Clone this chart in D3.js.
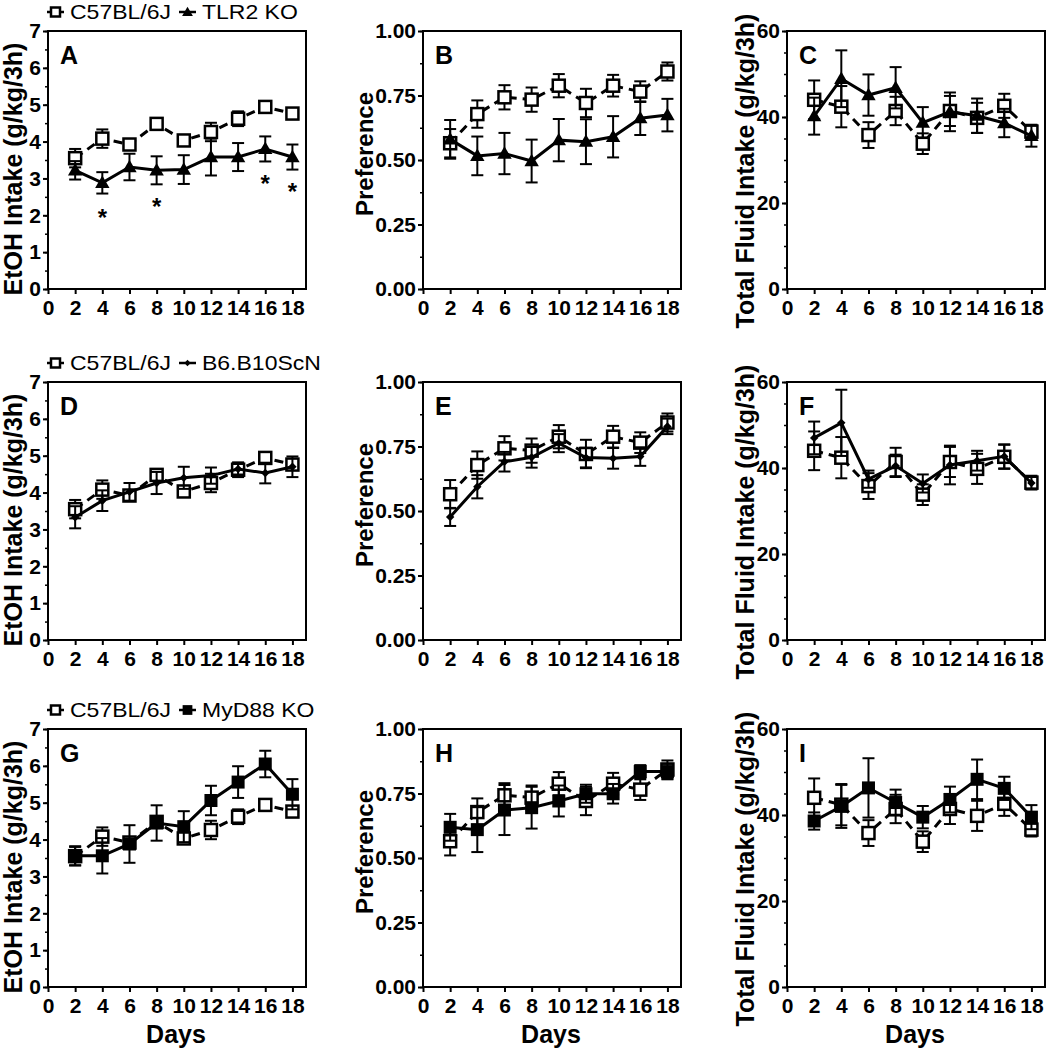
<!DOCTYPE html>
<html>
<head>
<meta charset="utf-8">
<script src="https://cdn.jsdelivr.net/npm/d3@7"></script>
<style>
  body { margin: 0; background: #fff; }
  svg text { font-family: "Liberation Sans", Arial, sans-serif; fill: #000; }
</style>
</head>
<body>
<svg id="fig" width="1047" height="1050"></svg>
<script>
// x values and tick labels
const days = [2, 4, 6, 8, 10, 12, 14, 16, 18];
const dayTicks = [0, 2, 4, 6, 8, 10, 12, 14, 16, 18];
const etohTicks = [0, 1, 2, 3, 4, 5, 6, 7];
const prefTicks = [0, 0.25, 0.5, 0.75, 1];
const fluidTicks = [0, 20, 40, 60];

// C57BL/6J controls (same group shown in every row)
const c57Etoh = [3.55, 4.08, 3.92, 4.48, 4.03, 4.26, 4.62, 4.94, 4.76];
const c57EtohErr = [0.25, 0.25, 0.1, 0.15, 0.1, 0.25, 0.2, 0.08, 0.1];
const c57Pref = [0.565, 0.678, 0.743, 0.734, 0.788, 0.721, 0.788, 0.765, 0.843];
const c57PrefErr = [0.055, 0.053, 0.047, 0.047, 0.045, 0.055, 0.042, 0.04, 0.035];
const c57Fluid = [44.0, 42.4, 35.8, 41.4, 33.8, 41.4, 39.8, 42.6, 36.6];
const c57FluidErr = [4.5, 4.8, 3.0, 3.3, 2.4, 3.5, 3.5, 2.8, 1.6];

// TLR2 KO
const tlr2Etoh = [3.22, 2.88, 3.31, 3.22, 3.24, 3.58, 3.58, 3.80, 3.58];
const tlr2EtohErr = [0.25, 0.29, 0.36, 0.38, 0.39, 0.5, 0.38, 0.34, 0.34];
const tlr2Pref = [0.58, 0.516, 0.525, 0.496, 0.577, 0.571, 0.590, 0.662, 0.674];
const tlr2PrefErr = [0.075, 0.075, 0.08, 0.083, 0.082, 0.087, 0.08, 0.065, 0.063];
const tlr2Fluid = [40.2, 48.9, 45.1, 46.8, 38.7, 41.2, 40.3, 38.6, 35.6];
const tlr2FluidErr = [4.3, 6.6, 4.8, 4.8, 3.6, 4.5, 4.0, 3.3, 2.5];

// B6.B10ScN
const scnEtoh = [3.33, 3.78, 4.02, 4.26, 4.40, 4.46, 4.64, 4.53, 4.70];
const scnEtohErr = [0.3, 0.28, 0.24, 0.3, 0.3, 0.22, 0.15, 0.28, 0.28];
const scnPref = [0.477, 0.594, 0.691, 0.708, 0.763, 0.707, 0.704, 0.711, 0.828];
const scnPrefErr = [0.035, 0.045, 0.038, 0.04, 0.035, 0.038, 0.04, 0.036, 0.03];
const scnFluid = [47.0, 50.5, 37.4, 40.5, 36.4, 40.7, 41.7, 42.7, 36.5];
const scnFluidErr = [3.8, 7.7, 2.0, 2.6, 2.1, 4.5, 2.3, 2.8, 1.4];

// MyD88 KO
const myd88Etoh = [3.56, 3.56, 3.88, 4.45, 4.35, 5.06, 5.56, 6.05, 5.23];
const myd88EtohErr = [0.26, 0.48, 0.51, 0.48, 0.42, 0.4, 0.43, 0.36, 0.41];
const myd88Pref = [0.619, 0.610, 0.686, 0.695, 0.721, 0.749, 0.749, 0.835, 0.835];
const myd88PrefErr = [0.052, 0.087, 0.097, 0.081, 0.06, 0.035, 0.038, 0.025, 0.03];
const myd88Fluid = [38.6, 42.0, 46.3, 42.9, 39.5, 43.6, 48.3, 46.2, 39.5];
const myd88FluidErr = [2.0, 5.0, 6.9, 3.0, 2.6, 3.0, 4.6, 2.7, 2.8];

// significance marks in panel A
const starDays = [4, 8, 16, 18];
const starY = [2.1, 2.4, 3.0, 2.8];

const rowNames = [["C57BL/6J", "TLR2 KO"], ["C57BL/6J", "B6.B10ScN"], ["C57BL/6J", "MyD88 KO"]];
const rowMarkers = ["triangle", "diamond", "square"];
const letters = ["A", "B", "C", "D", "E", "F", "G", "H", "I"];

// layout
const colLeft = [48, 423, 787];
const rowTop = [31, 382, 729];
const plotW = 258, plotH = 258;
const titleX = [22, 373, 754];
const titleShift = [9, -6, 11];

const measures = [
  { title: "EtOH Intake (g/kg/3h)", max: 7, ticks: etohTicks, minor: 0.5, fmt: d3.format("d"), c57: c57Etoh, c57e: c57EtohErr },
  { title: "Preference", max: 1, ticks: prefTicks, minor: 0.125, fmt: d3.format(".2f"), c57: c57Pref, c57e: c57PrefErr },
  { title: "Total Fluid Intake (g/kg/3h)", max: 60, ticks: fluidTicks, minor: 5, fmt: d3.format("d"), c57: c57Fluid, c57e: c57FluidErr }
];
const koData = [
  [[tlr2Etoh, tlr2EtohErr], [tlr2Pref, tlr2PrefErr], [tlr2Fluid, tlr2FluidErr]],
  [[scnEtoh, scnEtohErr], [scnPref, scnPrefErr], [scnFluid, scnFluidErr]],
  [[myd88Etoh, myd88EtohErr], [myd88Pref, myd88PrefErr], [myd88Fluid, myd88FluidErr]]
];

const svg = d3.select("#fig");

function drawMarker(g, type, x, y, k) {
  k = k || 1;
  if (type === "open") {
    const s = 12 * k;
    g.append("rect").attr("x", x - s / 2).attr("y", y - s / 2).attr("width", s).attr("height", s)
      .attr("fill", "#fff").attr("stroke", "#000").attr("stroke-width", 2.5);
  } else if (type === "triangle") {
    g.append("path").attr("transform", `translate(${x},${y + 1})`)
      .attr("d", d3.symbol(d3.symbolTriangle, 90 * k * k)()).attr("fill", "#000");
  } else if (type === "diamond") {
    g.append("path").attr("transform", `translate(${x},${y})`)
      .attr("d", d3.symbol(d3.symbolDiamond2, 45 * k * k)()).attr("fill", "#000");
  } else {
    const s = 13 * k;
    g.append("rect").attr("x", x - s / 2).attr("y", y - s / 2).attr("width", s).attr("height", s)
      .attr("fill", "#000");
  }
}

function drawSeries(g, x, y, vals, errs, dashed, marker) {
  const pts = days.map((d, i) => ({ d: d, v: vals[i], e: errs[i] }));
  // error bars
  const eb = g.append("g").attr("stroke", "#000").attr("stroke-width", 2);
  pts.forEach(p => {
    eb.append("line").attr("x1", x(p.d)).attr("x2", x(p.d)).attr("y1", y(p.v - p.e)).attr("y2", y(p.v + p.e));
    eb.append("line").attr("x1", x(p.d) - 6).attr("x2", x(p.d) + 6).attr("y1", y(p.v - p.e)).attr("y2", y(p.v - p.e));
    eb.append("line").attr("x1", x(p.d) - 6).attr("x2", x(p.d) + 6).attr("y1", y(p.v + p.e)).attr("y2", y(p.v + p.e));
  });
  g.append("path").datum(pts)
    .attr("d", d3.line().x(p => x(p.d)).y(p => y(p.v)))
    .attr("fill", "none").attr("stroke", "#000").attr("stroke-width", 3)
    .attr("stroke-dasharray", dashed ? "9,6" : null);
  pts.forEach(p => drawMarker(g, marker, x(p.d), y(p.v)));
}

for (let r = 0; r < 3; r++) {
  for (let c = 0; c < 3; c++) {
    const m = measures[c];
    const left = colLeft[c], top = rowTop[r];
    const g = svg.append("g").attr("transform", `translate(${left},${top})`);

    const x = d3.scaleLinear().domain([0, 19]).range([0, plotW]);
    const y = d3.scaleLinear().domain([0, m.max]).range([plotH, 0]);

    // minor y ticks
    const minorG = g.append("g").call(d3.axisLeft(y).tickValues(d3.range(0, m.max + 1e-9, m.minor)).tickSize(3).tickFormat(""));
    minorG.select(".domain").remove();
    minorG.selectAll("line").attr("stroke-width", 1.5);

    const yAxis = g.append("g").call(d3.axisLeft(y).tickValues(m.ticks).tickSize(5).tickPadding(2).tickFormat(m.fmt));
    yAxis.select(".domain").remove();
    yAxis.selectAll("line").attr("stroke-width", 2);
    yAxis.selectAll("text").attr("font-size", 21).attr("font-weight", "bold");

    const xAxis = g.append("g").attr("transform", `translate(0,${plotH})`)
      .call(d3.axisBottom(x).tickValues(dayTicks).tickSize(5).tickPadding(6));
    xAxis.select(".domain").remove();
    xAxis.selectAll("line").attr("stroke-width", 2);
    xAxis.selectAll("text").attr("font-size", 21).attr("font-weight", "bold");

    g.append("rect").attr("width", plotW).attr("height", plotH)
      .attr("fill", "none").attr("stroke", "#000").attr("stroke-width", 2);

    // panel letter
    g.append("text").attr("x", 12).attr("y", 33).attr("font-size", 25).attr("font-weight", "bold")
      .text(letters[r * 3 + c]);

    // y title
    svg.append("text")
      .attr("transform", `translate(${titleX[c]},${top + plotH / 2 + titleShift[c]}) rotate(-90)`)
      .attr("text-anchor", "middle").attr("font-size", c === 1 ? 24 : 25).attr("font-weight", "bold")
      .text(m.title);

    if (r === 2) {
      g.append("text").attr("x", plotW / 2 - 1).attr("y", plotH + 56).attr("text-anchor", "middle")
        .attr("font-size", 25).attr("font-weight", "bold").text("Days");
    }

    drawSeries(g, x, y, m.c57, m.c57e, true, "open");
    drawSeries(g, x, y, koData[r][c][0], koData[r][c][1], false, rowMarkers[r]);

    if (r === 0 && c === 0) {
      starDays.forEach((d, i) => {
        g.append("text").attr("x", x(d)).attr("y", y(starY[i]) + 14).attr("text-anchor", "middle")
          .attr("font-size", 24).attr("font-weight", "bold").text("*");
      });
    }
  }

  // legend above the first panel of each row
  const base = rowTop[r] - 12;
  const iconY = base - 7;
  const leg = svg.append("g");
  let cx = 47;
  [["open", true], [rowMarkers[r], false]].forEach((it, i) => {
    leg.append("line").attr("x1", cx).attr("x2", cx + 17).attr("y1", iconY).attr("y2", iconY)
      .attr("stroke", "#000").attr("stroke-width", 2.5);
    drawMarker(leg, it[0], cx + 8.5, iconY, 0.75);
    const t = leg.append("text").attr("transform", `translate(${cx + 23},${base}) scale(1.15,1)`)
      .attr("font-size", 20).text(rowNames[r][i]);
    cx = cx + 23 + t.node().getComputedTextLength() * 1.15 + 8;
  });
}
</script>
</body>
</html>
